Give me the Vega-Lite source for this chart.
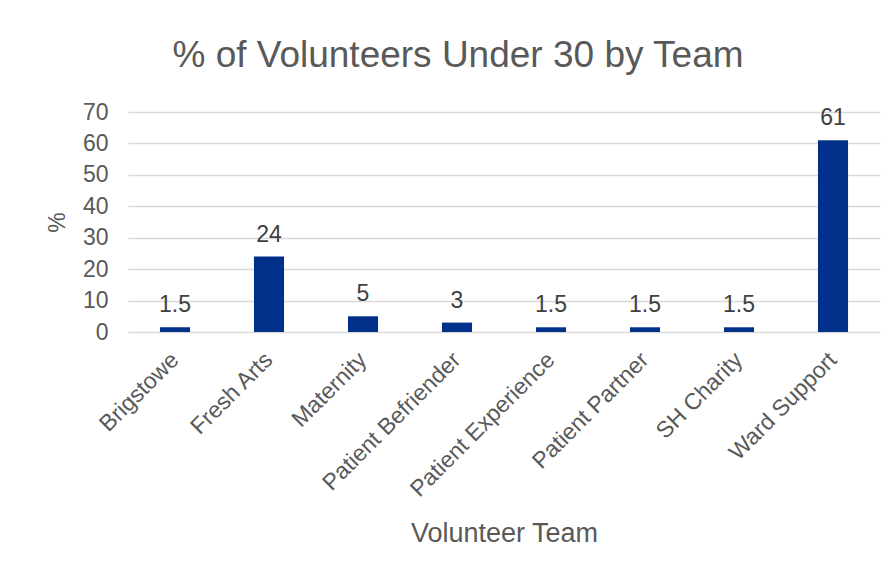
{
  "$schema": "https://vega.github.io/schema/vega-lite/v6.json",
  "autosize": {"type": "none"},
  "width": 752,
  "height": 220,
  "padding": {"left": 128, "top": 112, "right": 16, "bottom": 242},
  "background": "white",
  "title": {
    "text": "% of Volunteers Under 30 by Team",
    "fontSize": 37,
    "font": "Liberation Sans",
    "fontWeight": "normal",
    "color": "#595959",
    "anchor": "middle",
    "dx": -46,
    "offset": 26
  },
  "data": {
    "values": [
      {"team": "Brigstowe", "pct": 1.5},
      {"team": "Fresh Arts", "pct": 24},
      {"team": "Maternity", "pct": 5},
      {"team": "Patient Befriender", "pct": 3},
      {"team": "Patient Experience", "pct": 1.5},
      {"team": "Patient Partner", "pct": 1.5},
      {"team": "SH Charity", "pct": 1.5},
      {"team": "Ward Support", "pct": 61}
    ]
  },
  "encoding": {
    "x": {
      "field": "team",
      "type": "nominal",
      "sort": null,
      "scale": {"paddingInner": 0.68, "paddingOuter": 0.34},
      "axis": {
        "title": "Volunteer Team",
        "labelAngle": -45,
        "labelAlign": "right",
        "labelBaseline": "middle",
        "labelPadding": 24,
        "labelLimit": 400,
        "labelFontSize": 23,
        "labelFont": "Liberation Sans",
        "labelColor": "#595959",
        "titleFontSize": 27,
        "titleFont": "Liberation Sans",
        "titleFontWeight": "normal",
        "titleColor": "#595959",
        "titleX": 376,
        "titleY": 201,
        "titleBaseline": "middle",
        "domain": false,
        "ticks": false,
        "grid": false
      }
    },
    "y": {
      "field": "pct",
      "type": "quantitative",
      "scale": {"domain": [0, 70], "nice": false},
      "axis": {
        "title": "%",
        "values": [0, 10, 20, 30, 40, 50, 60, 70],
        "labelFontSize": 23,
        "labelFont": "Liberation Sans",
        "labelColor": "#595959",
        "labelPadding": 20,
        "titleFontSize": 23,
        "titleFont": "Liberation Sans",
        "titleFontWeight": "normal",
        "titleColor": "#595959",
        "titleX": -71,
        "titleY": 110,
        "titleAngle": -90,
        "titleAlign": "center",
        "titleBaseline": "middle",
        "domain": false,
        "ticks": false,
        "grid": true,
        "gridColor": "#d9d9d9",
        "gridWidth": 1.5
      }
    }
  },
  "layer": [
    {"mark": {"type": "bar", "color": "#00308A"}},
    {
      "mark": {
        "type": "text",
        "baseline": "alphabetic",
        "dy": -15,
        "fontSize": 23,
        "font": "Liberation Sans",
        "color": "#404040"
      },
      "encoding": {"text": {"field": "pct", "type": "quantitative"}}
    }
  ],
  "config": {"view": {"stroke": null}}
}
